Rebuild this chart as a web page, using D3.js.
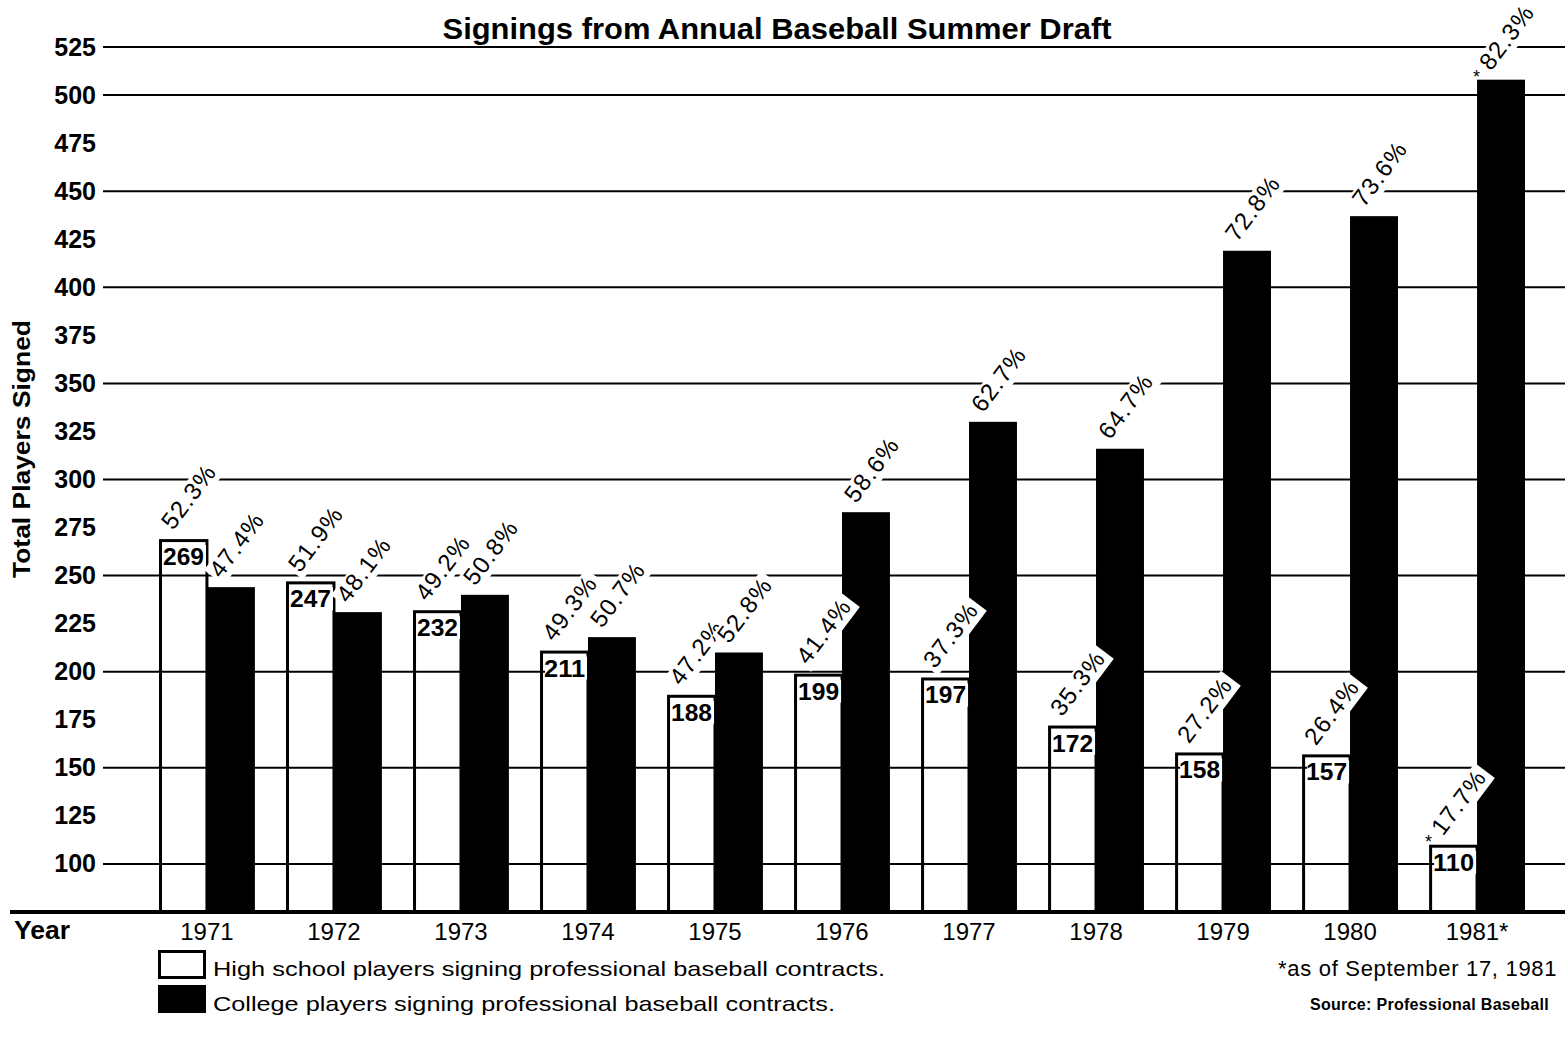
<!DOCTYPE html>
<html><head><meta charset="utf-8">
<script src="https://cdn.jsdelivr.net/npm/d3@7"></script>
<style>
body{margin:0;background:#fff}
svg{display:block}
text{font-family:"Liberation Sans",Arial,Helvetica,sans-serif;fill:#000}
</style>
</head><body>
<svg id="chart" width="1565" height="1041"></svg>
<script>
// ---- data ----
const years = ["1971","1972","1973","1974","1975","1976","1977","1978","1979","1980","1981*"];
const highSchool = [269,247,232,211,188,199,197,172,158,157,110];
const college = [244,231,240,218,210,283,330,316,419,437,508];
const highSchoolPct = ["52.3%","51.9%","49.2%","49.3%","47.2%","41.4%","37.3%","35.3%","27.2%","26.4%","17.7%"];
const collegePct = ["47.4%","48.1%","50.8%","50.7%","52.8%","58.6%","62.7%","64.7%","72.8%","73.6%","82.3%"];
const starred = [false,false,false,false,false,false,false,false,false,false,true];
const yTickValues = d3.range(100, 526, 25);
const gridValues = [100,150,200,250,300,350,400,450,500,525];
const seriesKeys = ["hs","college"];
const legendLabels = ["High school players signing professional baseball contracts.","College players signing professional baseball contracts."];
const titleText = "Signings from Annual Baseball Summer Draft";
const yTitle = "Total Players Signed";
const footnote = "*as of September 17, 1981";
const sourceText = "Source: Professional Baseball";

// ---- scales ----
const svg = d3.select("#chart");
const W = 1565;
const x = d3.scaleBand().domain(years).range([159, 1525]).paddingInner(0.245).paddingOuter(0);
const xs = d3.scaleBand().domain(seriesKeys).range([0, x.bandwidth()]).padding(0);
const y = d3.scaleLinear().domain([75, 525]).range([912, 47]);

const rows = years.map((yr, i) => ({yr, hs: highSchool[i], college: college[i], hsPct: highSchoolPct[i], colPct: collegePct[i], star: starred[i]}));

// ---- gridlines ----
svg.append("g").selectAll("line").data(gridValues).join("line")
  .attr("x1", 103).attr("x2", W)
  .attr("y1", d => y(d)).attr("y2", d => y(d))
  .attr("stroke", "#000").attr("stroke-width", 2);

// ---- bars ----
const g = svg.append("g");
g.selectAll("rect.hs").data(rows).join("rect").attr("class","hs")
  .attr("x", d => x(d.yr) + xs("hs") + 1.5)
  .attr("y", d => y(d.hs) + 1.5)
  .attr("width", xs.bandwidth() - 1.5)
  .attr("height", d => y(75) - y(d.hs) - 1.5)
  .attr("fill", "none").attr("stroke", "#000").attr("stroke-width", 3);
g.selectAll("rect.col").data(rows).join("rect").attr("class","col")
  .attr("x", d => x(d.yr) + xs("college"))
  .attr("y", d => y(d.college))
  .attr("width", xs.bandwidth())
  .attr("height", d => y(75) - y(d.college))
  .attr("fill", "#000");

// baseline
svg.append("line").attr("x1", 10).attr("x2", W).attr("y1", y(75)).attr("y2", y(75))
  .attr("stroke", "#000").attr("stroke-width", 4);

// ---- value labels inside HS bars ----
const vl = svg.append("g").selectAll("g").data(rows).join("g")
  .attr("transform", d => `translate(${x(d.yr) + xs("hs") + 4},${y(d.hs) + 26})`);
vl.append("rect").attr("x", 1).attr("y", -20).attr("width", 42).attr("height", 23).attr("fill", "#fff");
vl.append("text").text(d => d.hs).attr("font-size", 24).attr("font-weight", "bold")
  .attr("textLength", 41).attr("lengthAdjust", "spacingAndGlyphs");

// ---- percent labels (rotated, white backing) ----
function pctLabel(sel, key, valKey, pctKey) {
  const grp = sel.append("g").selectAll("g").data(rows).join("g")
    .attr("transform", d => `translate(${x(d.yr) + xs(key) + 14},${y(d[valKey]) - 8}) rotate(-53)`);
  grp.append("rect").attr("fill", "#fff");
  const t = grp.append("text").text(d => d[pctKey]).attr("font-size", 24).attr("letter-spacing", 1.2);
  t.each(function() {
    const len = this.getComputedTextLength();
    d3.select(this.previousSibling).attr("x", -3).attr("y", -19).attr("width", len + 7).attr("height", 25);
  });
  // asterisks
  sel.append("g").selectAll("text").data(rows.filter(d => d.star)).join("text")
    .attr("x", d => x(d.yr) + xs(key) - 4)
    .attr("y", d => y(d[valKey]) + 3)
    .attr("font-size", 18).text("*");
}
const labels = svg.append("g");
pctLabel(labels, "hs", "hs", "hsPct");
pctLabel(labels, "college", "college", "colPct");

// ---- axes ----
const yAxis = svg.append("g").attr("transform", "translate(96,0)")
  .call(d3.axisLeft(y).tickValues(yTickValues).tickSize(0).tickPadding(0).tickFormat(d3.format("d")));
yAxis.select(".domain").remove();
yAxis.selectAll("text").attr("font-size", 25).attr("font-weight", "bold")
  .attr("font-family", '"Liberation Sans",Arial,sans-serif').attr("fill", "#000");

const xAxis = svg.append("g").attr("transform", `translate(0,${y(75)})`)
  .call(d3.axisBottom(x).tickSize(0).tickPadding(11));
xAxis.select(".domain").remove();
xAxis.selectAll("text").attr("font-size", 24).attr("font-family", '"Liberation Sans",Arial,sans-serif')
  .attr("fill", "#000").attr("dy", "0.71em");

svg.append("text").attr("x", 14).attr("y", 939).attr("font-size", 25).attr("font-weight", "bold")
  .attr("textLength", 56).attr("lengthAdjust", "spacingAndGlyphs").text("Year");

// titles
svg.append("text").attr("x", 777).attr("y", 39).attr("text-anchor", "middle")
  .attr("font-size", 29).attr("font-weight", "bold")
  .attr("textLength", 669).attr("lengthAdjust", "spacingAndGlyphs").text(titleText);
svg.append("text").attr("transform", "translate(30,449) rotate(-90)").attr("text-anchor", "middle")
  .attr("font-size", 24).attr("font-weight", "bold")
  .attr("textLength", 258).attr("lengthAdjust", "spacingAndGlyphs").text(yTitle);

// ---- legend ----
const lg = svg.append("g");
lg.append("rect").attr("x", 159.5).attr("y", 951.5).attr("width", 45).attr("height", 26)
  .attr("fill", "#fff").attr("stroke", "#000").attr("stroke-width", 3);
lg.append("rect").attr("x", 158).attr("y", 985).attr("width", 48).attr("height", 28).attr("fill", "#000");
lg.append("text").attr("x", 213).attr("y", 976).attr("font-size", 21)
  .attr("textLength", 672).attr("lengthAdjust", "spacingAndGlyphs").text(legendLabels[0]);
lg.append("text").attr("x", 213).attr("y", 1011).attr("font-size", 21)
  .attr("textLength", 622).attr("lengthAdjust", "spacingAndGlyphs").text(legendLabels[1]);

svg.append("text").attr("x", 1278).attr("y", 976).attr("font-size", 22).attr("letter-spacing", 0.7).text(footnote);
svg.append("text").attr("x", 1310).attr("y", 1010).attr("font-size", 16).attr("font-weight", "600")
  .attr("letter-spacing", 0.3).text(sourceText);
</script>
</body></html>
